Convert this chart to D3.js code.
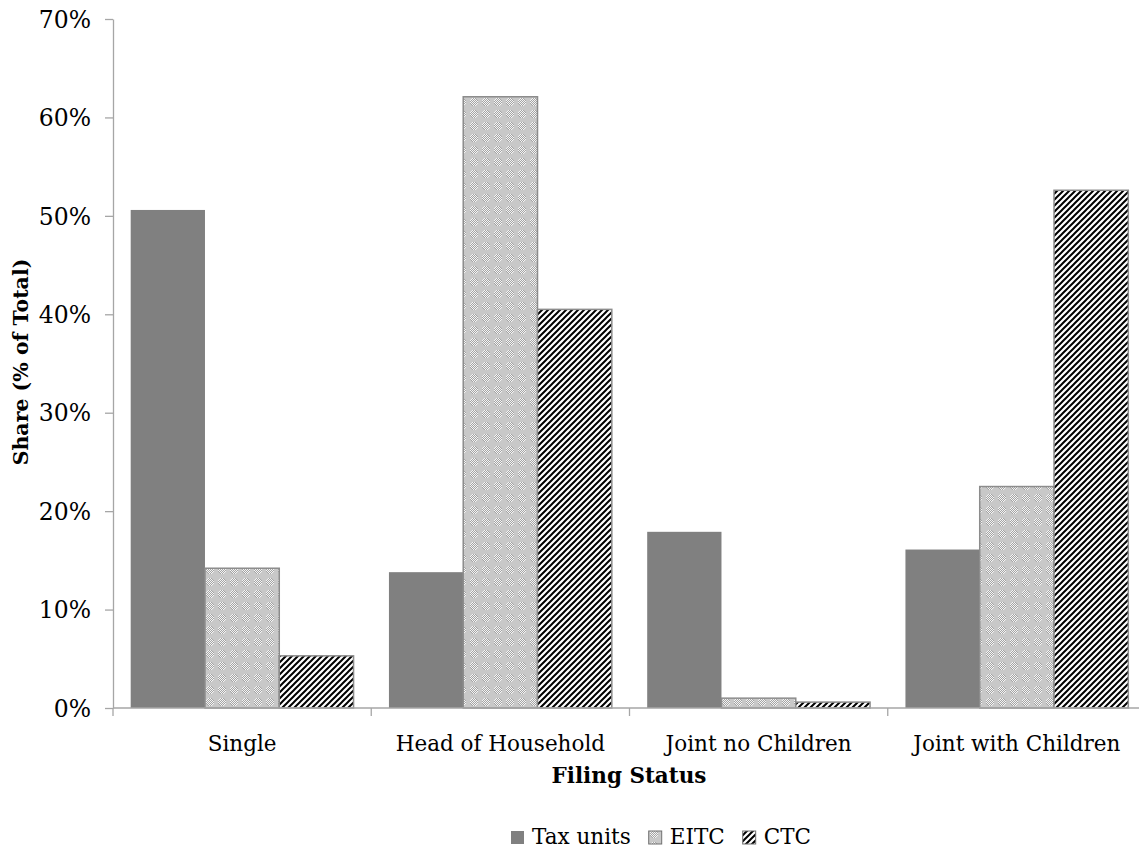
<!DOCTYPE html>
<html>
<head>
<meta charset="utf-8">
<script src="https://cdn.jsdelivr.net/npm/d3@7"></script>
<style>
  html, body { margin: 0; padding: 0; background: #fff; }
  svg { display: block; }
  svg text { font-family: "DejaVu Serif", "Noto Serif", "Liberation Serif", serif !important; fill: #000; }
</style>
</head>
<body>
<svg id="chart" width="1139" height="850"></svg>
<script>
// ---- data ----
const categories = ["Single", "Head of Household", "Joint no Children", "Joint with Children"];
const seriesNames = ["Tax units", "EITC", "CTC"];
const taxUnits = [50.6, 13.8, 17.9, 16.1];
const eitc = [14.2, 62.1, 1.0, 22.5];
const ctc = [5.3, 40.5, 0.6, 52.6];
const yTicks = [0, 10, 20, 30, 40, 50, 60, 70];
const xTitle = "Filing Status";
const yTitle = "Share (% of Total)";

const seriesValues = [taxUnits, eitc, ctc];

const svg = d3.select("#chart");
const defs = svg.append("defs");

// EITC dotted checker pattern
const pE = defs.append("pattern").attr("id", "pEitc")
  .attr("patternUnits", "userSpaceOnUse").attr("width", 12).attr("height", 12);
pE.append("rect").attr("width", 12).attr("height", 12).attr("fill", "#c8c8c8");
for (let i = 0; i < 12; i++) {
  for (let j = 0; j < 12; j++) {
    const dx = i + 0.5 - 6, dy = j + 0.5 - 6;
    if (dx * dx + dy * dy <= 16) {
      pE.append("rect").attr("x", i).attr("y", j).attr("width", 1).attr("height", 1)
        .attr("fill", (i + j) % 2 === 0 ? "#f4f4f4" : "#a4a4a4");
    }
  }
}
// CTC diagonal stripes
const pC = defs.append("pattern").attr("id", "pCtc")
  .attr("patternUnits", "userSpaceOnUse").attr("width", 6).attr("height", 6);
pC.append("rect").attr("width", 6).attr("height", 6).attr("fill", "#fff");
pC.append("path").attr("d", "M-1.5,1.5 L1.5,-1.5 M0,6 L6,0 M4.5,7.5 L7.5,4.5")
  .attr("stroke", "#000").attr("stroke-width", 2);

const fills = ["#808080", "url(#pEitc)", "url(#pCtc)"];
const strokes = ["none", "#8c8c8c", "#8c8c8c"];

const x0 = d3.scaleBand().domain(categories).range([113, 1146])
  .paddingInner(0.137).paddingOuter(0.0685);
const x1 = d3.scaleBand().domain(seriesNames).range([0, x0.bandwidth()]).padding(0);
const y = d3.scaleLinear().domain([0, 70]).range([708, 19]);

// bars
categories.forEach((c, ci) => {
  seriesNames.forEach((s, si) => {
    const v = seriesValues[si][ci];
    svg.append("rect")
      .attr("x", x0(c) + x1(s))
      .attr("y", y(v))
      .attr("width", x1.bandwidth())
      .attr("height", y(0) - y(v))
      .attr("fill", fills[si])
      .attr("stroke", strokes[si])
      .attr("stroke-width", 1.5);
  });
});

// y axis
const yAxis = d3.axisLeft(y).tickValues(yTicks).tickFormat(d => d + "%").tickSize(8).tickSizeOuter(0);
const gy = svg.append("g").attr("transform", "translate(113,0)").call(yAxis);
gy.attr("font-family", null).attr("font-size", null);
gy.select(".domain").attr("stroke", "#a6a6a6").attr("stroke-width", 1.3);
gy.selectAll(".tick line").attr("stroke", "#a6a6a6").attr("stroke-width", 1.3);
gy.selectAll(".tick text").attr("x", -22).attr("dy", "0.35em")
  .style("font-size", "23.5px").attr("fill", "#000");

// x axis
const gx = svg.append("g").attr("transform", "translate(0,708)");
gx.append("line").attr("x1", 113).attr("x2", 1146).attr("y1", 0).attr("y2", 0)
  .attr("stroke", "#a6a6a6").attr("stroke-width", 1.3);
const boundaries = categories.map(c => x0(c) - x0.step() * x0.paddingInner() / 2);
boundaries.push(1146);
gx.selectAll("line.bt").data(boundaries).join("line").attr("class", "bt")
  .attr("x1", d => d).attr("x2", d => d).attr("y1", 0).attr("y2", 8)
  .attr("stroke", "#a6a6a6").attr("stroke-width", 1.3);
gx.selectAll("text.cl").data(categories).join("text").attr("class", "cl")
  .attr("x", d => x0(d) + x0.bandwidth() / 2).attr("y", 43)
  .attr("text-anchor", "middle").style("font-size", "21.5px").text(d => d);

// axis titles
svg.append("text").attr("x", 629).attr("y", 783).attr("text-anchor", "middle")
  .style("font-size", "21.5px").style("font-weight", "bold").text(xTitle);
svg.append("text").attr("transform", "translate(28,362) rotate(-90)")
  .attr("text-anchor", "middle").style("font-size", "20.5px").style("font-weight", "bold").text(yTitle);

// legend
const lg = svg.append("g");
let lx = 511;
seriesNames.forEach((s, i) => {
  lg.append("rect").attr("x", lx).attr("y", 831).attr("width", 13).attr("height", 13)
    .attr("fill", fills[i]).attr("stroke", i === 0 ? "none" : "#707070").attr("stroke-width", 1);
  const t = lg.append("text").attr("x", lx + 21).attr("y", 844)
    .style("font-size", "21.5px").text(s);
  const w = t.node().getComputedTextLength();
  lx = lx + 21 + w + 18;
});
</script>
</body>
</html>
